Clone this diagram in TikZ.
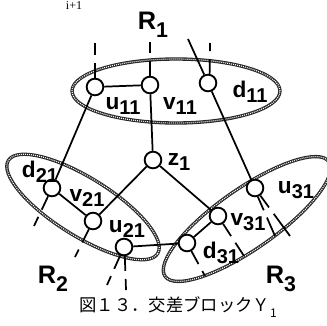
\documentclass[tikz,border=0pt]{standalone}
\usepackage{fontspec}
\setmainfont{Liberation Sans}
\newfontfamily\jpfont{Noto Sans CJK JP}
\newfontfamily\seriffont{Liberation Serif}
\newcommand{\nsub}[1]{\raisebox{-0.22em}{\fontsize{15}{15}\selectfont #1}}
\newcommand{\rsub}[1]{\raisebox{-0.32em}{\fontsize{16}{16}\selectfont #1}}
\tikzset{
  vtx/.style={circle, draw, line width=1.4pt, fill=white, minimum size=12.5pt, inner sep=0pt},
  edge/.style={line width=1.3pt},
  ext/.style={line width=1.3pt, dash pattern=on 11pt off 6pt on 100pt},
  bead/.style={white, line width=0.9pt, dash pattern=on 0.7pt off 0.8pt,
    preaction={draw=black!85, line width=2.5pt, solid}},
  lbl/.style={font=\bfseries\fontsize{17}{17}\selectfont, inner sep=0pt},
  reg/.style={font=\bfseries\fontsize{19}{19}\selectfont, inner sep=0pt}
}
\begin{document}
\begin{tikzpicture}[x=0.75pt, y=-0.75pt]
    \useasboundingbox (0,0) rectangle (327,325);

    % Regioni
    \draw[bead] (176,91) ellipse [x radius=78pt, y radius=24pt];
    \draw[bead, rotate around={-32:(83,207)}] (83,207) ellipse [x radius=66pt, y radius=21.75pt];
    \draw[bead, rotate around={35:(247,219)}] (247,219) ellipse [x radius=75pt, y radius=22.5pt];

    % Nodi
    \node[vtx] (u11) at (95,87) {};
    \node[vtx] (v11) at (150,85) {};
    \node[vtx] (d11) at (208,83) {};
    \node[vtx] (z1) at (153,160) {};
    \node[vtx] (d21) at (52,188) {};
    \node[vtx] (v21) at (93,221) {};
    \node[vtx] (u21) at (124,247) {};
    \node[vtx] (u31) at (255,188) {};
    \node[vtx] (v31) at (218,216) {};
    \node[vtx] (d31) at (187,243) {};

    % Estremi liberi
    \coordinate (u11x) at (95,43);
    \coordinate (v11x) at (150,42);
    \coordinate (d11x) at (210,43);
    \coordinate (d11y) at (188,39);
    \coordinate (d21x) at (34,226);
    \coordinate (v21x) at (75,257);
    \coordinate (u21x) at (107,285);
    \coordinate (u21y) at (126,290);
    \coordinate (u31x) at (275,236);
    \coordinate (u31y) at (290,236);
    \coordinate (v31x) at (244,256);
    \coordinate (d31x) at (205,276);

    % Collegamenti
    \draw[edge] (u11) -- (v11);
    \draw[edge] (v11) -- (z1);
    \draw[edge] (u11) -- (d21);
    \draw[edge] (d11) -- (u31);
    \draw[edge] (z1) -- (v21);
    \draw[edge] (z1) -- (v31);
    \draw[edge] (d21) -- (v21);
    \draw[edge] (v31) -- (d31);
    \draw[edge] (u21) -- (d31);
    \draw[edge] (d11) -- (d11y);

    % Linee verso l'esterno
    \draw[ext] (u11) -- (u11x);
    \draw[ext] (v11) -- (v11x);
    \draw[ext] (d11.80) -- (d11x);
    \draw[ext] (d21) -- (d21x);
    \draw[ext] (v21) -- (v21x);
    \draw[ext] (u21) -- (u21x);
    \draw[ext] (u21.-85) -- (u21y);
    \draw[ext] (u31.-72) -- (u31x);
    \draw[ext] (u31.-55) -- (u31y);
    \draw[ext] (v31) -- (v31x);
    \draw[ext] (d31) -- (d31x);

    % Etichette
    \node[lbl] (u11l) at (123,106) {u\nsub{11}};
    \node[lbl] (v11l) at (180,106) {v\nsub{11}};
    \node[lbl] (d11l) at (250,92) {d\nsub{11}};
    \node[lbl] (z1l) at (179,162) {z\nsub{1}};
    \node[lbl] (d21l) at (40,172) {d\nsub{21}};
    \node[lbl] (v21l) at (87,198) {v\nsub{21}};
    \node[lbl] (u21l) at (127,229) {u\nsub{21}};
    \node[lbl] (u31l) at (296,190) {u\nsub{31}};
    \node[lbl] (v31l) at (248,222) {v\nsub{31}};
    \node[lbl] (d31l) at (221,253) {d\nsub{31}};
    \node[reg] (r1) at (153,25) {R\rsub{1}};
    \node[reg] (r2) at (53,279) {R\rsub{2}};
    \node[reg] (r3) at (281,279) {R\rsub{3}};
    \node[font=\seriffont\fontsize{9}{9}\selectfont, inner sep=0pt] (top) at (74,6) {i+1};
    \node[font=\jpfont\fontsize{13}{13}\selectfont, inner sep=0pt] (cap) at (178,307)
      {図１３．交差ブロックＹ\raisebox{-0.35em}{\fontsize{9}{9}\selectfont 1}};

\end{tikzpicture}
\end{document}
